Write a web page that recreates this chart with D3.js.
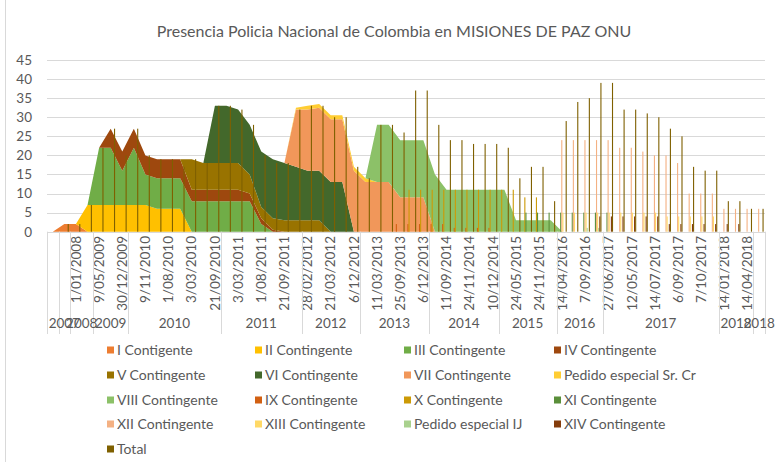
<!DOCTYPE html>
<html>
<head>
<meta charset="utf-8">
<script src="https://cdn.jsdelivr.net/npm/d3@7"></script>
<style>
  body { margin: 0; background: #fff; }
  text { font-family: Lato, "Open Sans", sans-serif; fill: #595959; }
</style>
</head>
<body>
<svg id="chart" width="777" height="462"></svg>
<script>
// series shown as stacked areas
var areaSeries = ["I Contigente", "II Contingente", "III Contingente", "IV Contingente",
  "V Contingente", "VI Contingente", "VII Contingente", "Pedido especial Sr. Cr", "VIII Contingente"];
// series shown as clustered columns
var barSeries = ["IX Contingente", "X Contingente", "XI Contingente", "XII Contingente",
  "XIII Contingente", "Pedido especial IJ", "XIV Contingente", "Total"];

var colors = {
  "I Contigente": "#ED7D31", "II Contingente": "#FFC000", "III Contingente": "#70AD47",
  "IV Contingente": "#9E480E", "V Contingente": "#997300", "VI Contingente": "#43682B",
  "VII Contingente": "#F1975A", "Pedido especial Sr. Cr": "#FFCD33", "VIII Contingente": "#8CC168",
  "IX Contingente": "#D26012", "X Contingente": "#CC9A06", "XI Contingente": "#5A8F3A",
  "XII Contingente": "#F4B183", "XIII Contingente": "#FFD966", "Pedido especial IJ": "#A9D18E",
  "XIV Contingente": "#843C0C", "Total": "#7F6000"
};

// visible date labels (every second category, first one blank)
var dateLabels = ["", "1/01/2008", "9/05/2009", "30/12/2009", "9/11/2010", "1/08/2010", "3/03/2010",
  "21/09/2010", "3/03/2011", "1/08/2011", "21/09/2011", "28/02/2012", "21/03/2012", "6/12/2012",
  "11/03/2013", "25/09/2013", "6/12/2013", "11/09/2014", "24/11/2014", "10/12/2014", "24/05/2015",
  "24/11/2015", "14/04/2016", "7/09/2016", "27/06/2017", "12/05/2017", "14/07/2017", "6/09/2017",
  "7/10/2017", "14/01/2018", "14/04/2018"];

// year groups: label, number of categories
var yearNames = ["", "2007", "2008", "2009", "2010", "2011", "2012", "2013", "2014", "2015", "2016", "2017", "2018", "2018"];
var yearSizes = [1, 1, 2, 3, 8, 7, 5, 6, 6, 5, 4, 10, 3, 1];

var yTicks = [0, 5, 10, 15, 20, 25, 30, 35, 40, 45];

// 62 categories each
var sI    = [0,2,2,0,0,0,0,0,0,0, 0,0,0,0,0,0,0,0,0,0, 0,0,0,0,0,0,0,0,0,0, 0,0,0,0,0,0,0,0,0,0, 0,0,0,0,0,0,0,0,0,0, 0,0,0,0,0,0,0,0,0,0, 0,0];
var sII   = [0,0,0,7,7,7,7,7,7,6, 6,6,0,0,0,0,0,0,0,0, 0,0,0,0,0,0,0,0,0,0, 0,0,0,0,0,0,0,0,0,0, 0,0,0,0,0,0,0,0,0,0, 0,0,0,0,0,0,0,0,0,0, 0,0];
var sIII  = [0,0,0,0,15,15,9,15,8,8, 8,8,8,8,8,8,8,8,2,0, 0,0,0,0,0,0,0,0,0,0, 0,0,0,0,0,0,0,0,0,0, 0,0,0,0,0,0,0,0,0,0, 0,0,0,0,0,0,0,0,0,0, 0,0];
var sIV   = [0,0,0,0,0,5,5,5,5,5, 5,5,3,3,3,3,3,2,1.5,0.5, 0,0,0,0,0,0,0,0,0,0, 0,0,0,0,0,0,0,0,0,0, 0,0,0,0,0,0,0,0,0,0, 0,0,0,0,0,0,0,0,0,0, 0,0];
var sV    = [0,0,0,0,0,0,0,0,0,0, 0,0,8,7,7,7,7,5,3,3, 3,3,3,3,0,0,0,0,0,0, 0,0,0,0,0,0,0,0,0,0, 0,0,0,0,0,0,0,0,0,0, 0,0,0,0,0,0,0,0,0,0, 0,0];
var sVI   = [0,0,0,0,0,0,0,0,0,0, 0,0,0,0,15,15,14,13,14.5,15.5, 15,14,13,13,13,13,0,0,0,0, 0,0,0,0,0,0,0,0,0,0, 0,0,0,0,0,0,0,0,0,0, 0,0,0,0,0,0,0,0,0,0, 0,0];
var sVII  = [0,0,0,0,0,0,0,0,0,0, 0,0,0,0,0,0,0,0,0,0, 0,15,16,16.5,16.5,16.5,16,13,13,13, 9,9,9,0,0,0,0,0,0,0, 0,0,0,0,0,0,0,0,0,0, 0,0,0,0,0,0,0,0,0,0, 0,0];
var sSrCr = [0,0,0,0,0,0,0,0,0,0, 0,0,0,0,0,0,0,0,0,0, 0,0.5,1,1,1,1,1,1,0,0, 0,0,0,0,0,0,0,0,0,0, 0,0,0,0,0,0,0,0,0,0, 0,0,0,0,0,0,0,0,0,0, 0,0];
var sVIII = [0,0,0,0,0,0,0,0,0,0, 0,0,0,0,0,0,0,0,0,0, 0,0,0,0,0,0,0,0,15,15, 15,15,15,15,11,11,11,11,11,11, 3,3,3,3,0,0,0,0,0,0, 0,0,0,0,0,0,0,0,0,0, 0,0];
var sIX   = [0,0,0,0,0,0,0,0,0,0, 0,0,0,0,0,0,0,0,0,0, 0,0,0,0,0,0,0,0,0,0, 2,2,2,2,2,1,1,1,1,0, 0,0,0,0,0,0,0,0,0,0, 0,0,0,0,0,0,0,0,0,0, 0,0];
var sX    = [0,0,0,0,0,0,0,0,0,0, 0,0,0,0,0,0,0,0,0,0, 0,0,0,0,0,0,0,0,0,0, 0,11,11,11,11,11,11,11,11,11, 11,9,9,0,0,0,0,0,0,0, 0,0,0,0,0,0,0,0,0,0, 0,0];
var sXI   = [0,0,0,0,0,0,0,0,0,0, 0,0,0,0,0,0,0,0,0,0, 0,0,0,0,0,0,0,0,0,0, 0,0,0,0,0,0,0,0,0,0, 0,5,5,5,5,5,5,5,5,0, 0,0,0,0,0,0,0,0,0,0, 0,0];
var sXII  = [0,0,0,0,0,0,0,0,0,0, 0,0,0,0,0,0,0,0,0,0, 0,0,0,0,0,0,0,0,0,0, 0,0,0,0,0,0,0,0,0,0, 0,0,0,0,24,24,24,24,24,22, 22,21,20,20,18,10,10,10,6,6, 6,6];
var sXIII = [0,0,0,0,0,0,0,0,0,0, 0,0,0,0,0,0,0,0,0,0, 0,0,0,0,0,0,0,0,0,0, 0,0,0,0,0,0,0,0,0,0, 0,0,0,0,5,5,5,5,5,5, 5,5,5,4,4,4,4,4,0,0, 0,0];
var sIJ   = [0,0,0,0,0,0,0,0,0,0, 0,0,0,0,0,0,0,0,0,0, 0,0,0,0,0,0,0,0,0,0, 0,0,0,0,0,0,0,0,0,0, 0,0,0,0,0,0,1,1,0,0, 0,0,0,0,0,0,0,0,0,0, 0,0];
var sXIV  = [0,0,0,0,0,0,0,0,0,0, 0,0,0,0,0,0,0,0,0,0, 0,0,0,0,0,0,0,0,0,0, 0,0,0,0,0,0,0,0,0,0, 0,0,0,0,0,0,0,4,4,4, 4,4,4,2,2,2,2,2,2,2, 0,0];
var sTotal = [0,2,2,7,22,27,20,27,20,19, 19,17,19,18,33,33,32,28,20,18, 18,32,33,33,30,30,17,14,28,28, 26,37,37,28,24,24,23,23,23,22, 14,17,17,8,29,34,35,39,39,32, 32,31,30,27,25,17,16,16,8,8, 6,6];

var areaValues = [sI, sII, sIII, sIV, sV, sVI, sVII, sSrCr, sVIII];
var barValues = [sIX, sX, sXI, sXII, sXIII, sIJ, sXIV, sTotal];

var nCat = sTotal.length;
var plotLeft = 47, plotRight = 765, plotTop = 60, plotBottom = 231.7;

var svg = d3.select("#chart");

var x = d3.scaleBand().domain(d3.range(nCat)).range([plotLeft, plotRight]).padding(0);
var y = d3.scaleLinear().domain([0, 45]).range([plotBottom, plotTop]);
var xIn = d3.scaleBand().domain(barSeries).range([-4.4, 4.4]).padding(0);

// title
svg.append("text")
  .attr("x", 394).attr("y", 37)
  .attr("text-anchor", "middle")
  .style("font-size", "16px")
  .text("Presencia Policia Nacional de Colombia en MISIONES DE PAZ ONU");

// left border of chart area
svg.append("line")
  .attr("x1", 5.5).attr("x2", 5.5).attr("y1", 0).attr("y2", 462)
  .attr("stroke", "#d9d9d9");

// gridlines
svg.append("g").selectAll("line")
  .data(yTicks)
  .enter().append("line")
  .attr("x1", plotLeft).attr("x2", plotRight)
  .attr("y1", function (d) { return Math.round(y(d)) + 0.5; })
  .attr("y2", function (d) { return Math.round(y(d)) + 0.5; })
  .attr("stroke", "#d9d9d9");

var yAxis = d3.axisLeft(y).tickValues(yTicks).tickSize(0).tickPadding(15);
svg.append("g")
  .attr("transform", "translate(" + plotLeft + ",0)")
  .call(yAxis)
  .call(function (g) { g.select(".domain").remove(); })
  .selectAll("text")
  .style("font-size", "13.5px")
  .style("font-family", "Lato, sans-serif")
  .attr("fill", "#595959");

// stacked areas
var rows = d3.range(nCat).map(function (i) {
  var r = { i: i };
  areaSeries.forEach(function (s, k) { r[s] = areaValues[k][i]; });
  return r;
});
var stack = d3.stack().keys(areaSeries);
var layers = stack(rows);

var area = d3.area()
  .x(function (d) { return x(d.data.i) + x.bandwidth() / 2; })
  .y0(function (d) { return y(d[0]); })
  .y1(function (d) { return y(d[1]); });

svg.append("g").selectAll("path")
  .data(layers)
  .enter().append("path")
  .attr("d", area)
  .attr("fill", function (d) { return colors[d.key]; });

// clustered columns
var bars = [];
barSeries.forEach(function (s, k) {
  barValues[k].forEach(function (v, i) {
    if (v > 0) bars.push({ s: s, i: i, v: v });
  });
});

svg.append("g").selectAll("rect")
  .data(bars)
  .enter().append("rect")
  .attr("x", function (d) { return x(d.i) + x.bandwidth() / 2 + xIn(d.s); })
  .attr("width", xIn.bandwidth())
  .attr("y", function (d) { return y(d.v); })
  .attr("height", function (d) { return y(0) - y(d.v); })
  .attr("fill", function (d) { return colors[d.s]; });

// x axis: date labels
var xg = svg.append("g");
xg.selectAll("text.date")
  .data(dateLabels)
  .enter().append("text")
  .attr("class", "date")
  .attr("transform", function (d, k) {
    var cx = x(k * 2) + x.bandwidth() / 2;
    return "translate(" + cx + ",236) rotate(-90)";
  })
  .attr("text-anchor", "end")
  .attr("dy", "0.35em")
  .style("font-size", "13.5px")
  .text(function (d) { return d; });

// year groups
var groups = [], start = 0;
yearNames.forEach(function (name, k) {
  groups.push({ name: name, a: start, b: start + yearSizes[k] });
  start += yearSizes[k];
});

var bounds = [0].concat(groups.map(function (g) { return g.b; }));
xg.selectAll("line.sep")
  .data(bounds)
  .enter().append("line")
  .attr("class", "sep")
  .attr("x1", function (d) { return Math.round(plotLeft + d * x.step()) + 0.5; })
  .attr("x2", function (d) { return Math.round(plotLeft + d * x.step()) + 0.5; })
  .attr("y1", plotBottom)
  .attr("y2", 334)
  .attr("stroke", "#d9d9d9");

xg.selectAll("text.year")
  .data(groups)
  .enter().append("text")
  .attr("class", "year")
  .attr("x", function (d) { return plotLeft + (d.a + d.b) / 2 * x.step(); })
  .attr("y", 328)
  .attr("text-anchor", "middle")
  .style("font-size", "13.5px")
  .text(function (d) { return d.name; });

svg.append("line")
  .attr("x1", plotLeft).attr("x2", plotRight)
  .attr("y1", Math.round(plotBottom) + 0.5).attr("y2", Math.round(plotBottom) + 0.5)
  .attr("stroke", "#d9d9d9");

// legend
var legendItems = areaSeries.concat(barSeries);
var colX = [107, 255, 404, 554];
var rowY = [350, 375, 400, 424, 449];

var legend = svg.append("g").selectAll("g")
  .data(legendItems)
  .enter().append("g")
  .attr("transform", function (d, k) {
    return "translate(" + colX[k % 4] + "," + rowY[Math.floor(k / 4)] + ")";
  });

legend.append("rect")
  .attr("x", 0).attr("y", -3.5)
  .attr("width", 7).attr("height", 7)
  .attr("fill", function (d) { return colors[d]; });

legend.append("text")
  .attr("x", 10).attr("dy", "0.35em")
  .style("font-size", "14px")
  .text(function (d) { return d; });
</script>
</body>
</html>
